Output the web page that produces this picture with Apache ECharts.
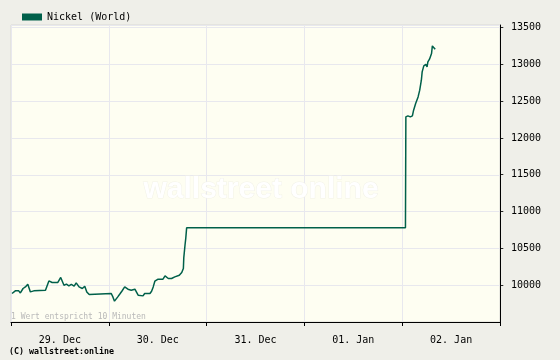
<!DOCTYPE html>
<html>
<head>
<meta charset="utf-8">
<script src="https://cdn.jsdelivr.net/npm/echarts@6/dist/echarts.min.js"></script>
<style>
html,body{margin:0;padding:0;background:#efefe9;}
#chart{width:560px;height:360px;}
</style>
</head>
<body>
<div id="chart"></div>
<script>
// Day categories (labels centred in each day band)
var days = ['29. Dec', '30. Dec', '31. Dec', '01. Jan', '02. Jan'];
var seriesName = 'Nickel (World)';
// Hours since 29 Dec 00:00 (1 value = 10 minutes)
var hours = [0.25, 1.06, 1.9, 2.3, 2.96, 3.53, 4.12, 4.52, 4.76, 5.6, 8.46, 9.3, 10.1, 11.5, 12.2, 13.0, 13.6, 14.2, 14.8, 15.5, 16.0, 16.7, 17.5, 18.1, 18.6, 19.2, 19.6,
  24.6, 25.0, 25.4, 25.8, 26.2, 26.8, 27.2, 27.5, 27.9, 28.7, 29.5, 30.4, 30.8, 31.2, 32.4, 32.8, 34.1, 34.5, 34.9, 35.3, 36.1, 37.3, 37.8, 38.6, 39.4, 40.2, 40.6, 41.3, 41.9, 42.3, 42.4, 42.7, 42.9, 43.1,
  96.8, 96.9, 97.4, 98.0, 98.5, 98.8, 99.3, 99.9, 100.3, 100.7, 100.9, 101.3, 101.8, 102.1, 102.3, 102.7, 103.2, 103.4, 103.7, 104.1];
// Nickel price
var prices = [9887, 9923, 9923, 9895, 9955, 9977, 10014, 10037, 9909, 9923, 9932, 10058, 10037, 10037, 10105, 10000, 10014, 9990, 10010, 9986, 10031, 9977, 9955, 9986, 9909, 9874, 9887,
  9887, 9841, 9783, 9796, 9841, 9887, 9918, 9909, 9977, 9946, 9932, 9946, 9946, 9864, 9855, 9887, 9887, 9918, 9977, 10054, 10082, 10082, 10126, 10091, 10091, 10113, 10091, 10136, 10173, 10227, 10371, 10543, 10643, 10779,
  10779, 12287, 12300, 12287, 12300, 12378, 12469, 12558, 12650, 12785, 12898, 12980, 12999, 12966, 13034, 13071, 13148, 13251, 13251, 13207];
var yTicks = [10000, 10500, 11000, 11500, 12000, 12500, 13000, 13500];

var HOUR = 3600000;
var start = Date.UTC(2008, 11, 29);
var data = hours.map(function (h, i) { return [start + h * HOUR, prices[i]]; });
var mono = 'DejaVu Sans Mono';

var chart = echarts.init(document.getElementById('chart'), null, {renderer: 'canvas'});
chart.setOption({
  animation: false,
  backgroundColor: '#efefe9',
  textStyle: {fontFamily: mono},
  legend: {
    data: [seriesName],
    left: 17, top: 7,
    icon: 'rect',
    itemWidth: 20, itemHeight: 7, itemGap: 10,
    textStyle: {fontFamily: mono, fontSize: 10, color: '#000'}
  },
  grid: {
    left: 11, right: 60, top: 25, bottom: 38,
    show: true, backgroundColor: '#fefef2', borderColor: '#d9d9d4', borderWidth: 1,
    containLabel: false
  },
  xAxis: [{
    type: 'category',
    data: days,
    boundaryGap: true,
    position: 'bottom',
    axisLine: {onZero: false, lineStyle: {color: '#000', width: 1}},
    axisTick: {show: true, alignWithLabel: false, length: 4, lineStyle: {color: '#000'}},
    axisLabel: {fontFamily: mono, fontSize: 10, color: '#000', margin: 13},
    splitLine: {show: true, lineStyle: {color: '#e8e8ee', width: 1}}
  }, {
    type: 'time',
    show: false,
    min: start, max: start + 120 * HOUR,
    axisLine: {onZero: false}
  }],
  yAxis: {
    type: 'value',
    position: 'right',
    min: 9500, max: 13535, interval: 500,
    axisLine: {show: true, onZero: false, lineStyle: {color: '#000', width: 1}},
    axisTick: {show: false},
    axisLabel: {fontFamily: mono, fontSize: 10, color: '#000', margin: -1,
      formatter: function (v) { return yTicks.indexOf(v) >= 0 ? '- ' + String(v) : ''; }},
    splitLine: {show: true, lineStyle: {color: '#e8e8ee', width: 1}}
  },
  graphic: [{
    type: 'text', left: 143, top: 174, z: 1, silent: true,
    style: {text: 'wallstreet online', font: 'bold 30px "Liberation Sans"', fill: '#ffffff', stroke: '#f2f2e8', lineWidth: 1}
  }, {
    type: 'text', left: 11, top: 313, z: 1, silent: true,
    style: {text: '1 Wert entspricht 10 Minuten', font: '8px "DejaVu Sans Mono"', fill: '#b9b9b9'}
  }, {
    type: 'text', left: 9, top: 348, silent: true,
    style: {text: '(C) wallstreet:online', font: 'bold 8.3px "DejaVu Sans Mono"', fill: '#000'}
  }],
  series: [{
    name: seriesName,
    type: 'line',
    xAxisIndex: 1,
    data: data,
    showSymbol: false,
    z: 5,
    itemStyle: {color: '#00604a'},
    lineStyle: {color: '#00604a', width: 1.5}
  }]
});
</script>
</body>
</html>
